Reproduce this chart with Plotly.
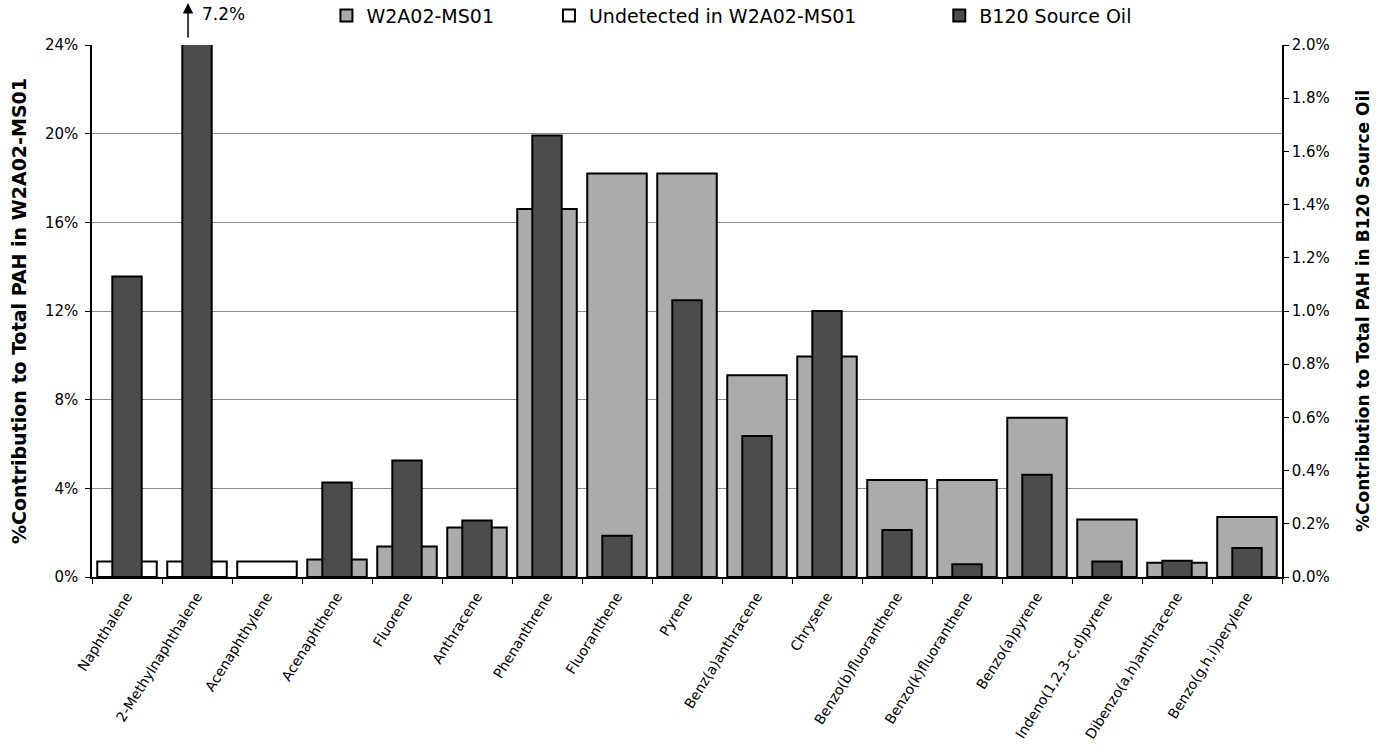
import plotly.graph_objects as go

# PAH compounds (x categories)
compounds = [
    "Naphthalene", "2-Methylnaphthalene", "Acenaphthylene", "Acenaphthene",
    "Fluorene", "Anthracene", "Phenanthrene", "Fluoranthene", "Pyrene",
    "Benz(a)anthracene", "Chrysene", "Benzo(b)fluoranthene",
    "Benzo(k)fluoranthene", "Benzo(a)pyrene", "Indeno(1,2,3-c,d)pyrene",
    "Dibenzo(a,h)anthracene", "Benzo(g,h,i)perylene",
]

# % contribution to total PAH in W2A02-MS01 (detected compounds)
w2a02_pct = [None, None, None, 0.79, 1.38, 2.23, 16.6, 18.2, 18.2,
             9.1, 9.95, 4.38, 4.38, 7.18, 2.59, 0.64, 2.71]

# compounds not detected in W2A02-MS01 (plotted at the detection-limit level)
undetected_pct = [0.7, 0.7, 0.7, None, None, None, None, None, None,
                  None, None, None, None, None, None, None, None]

# % contribution to total PAH in B120 source oil (right axis)
b120_pct = [1.13, 7.2, None, 0.355, 0.438, 0.212, 1.66, 0.155, 1.04,
            0.53, 1.0, 0.177, 0.048, 0.384, 0.058, 0.061, 0.109]

FONT = "DejaVu Sans, Arial, sans-serif"
GRAY = "#ababab"
DARK = "#4c4c4c"
OUTLINE = dict(color="black", width=2)

fig = go.Figure()

fig.add_trace(go.Bar(
    x=compounds, y=w2a02_pct, name="W2A02-MS01",
    width=0.85, marker=dict(color=GRAY, line=OUTLINE),
    legend="legend", showlegend=True,
))
fig.add_trace(go.Bar(
    x=compounds, y=undetected_pct, name="Undetected in W2A02-MS01",
    width=0.85, marker=dict(color="white", line=OUTLINE),
    legend="legend2", showlegend=True,
))
fig.add_trace(go.Bar(
    x=compounds, y=b120_pct, name="B120 Source Oil", yaxis="y2",
    width=0.42, marker=dict(color=DARK, line=OUTLINE),
    legend="legend3", showlegend=True,
))

legend_common = dict(
    orientation="h", yanchor="middle", y=1.055, xanchor="left",
    font=dict(family=FONT, size=19, color="black"),
    bgcolor="rgba(0,0,0,0)", borderwidth=0,
)

fig.update_layout(
    width=1379, height=745,
    margin=dict(l=92, r=97, t=45, b=168, autoexpand=False),
    paper_bgcolor="white", plot_bgcolor="white",
    barmode="overlay", showlegend=True,
    font=dict(family=FONT, color="black"),
    legend=dict(x=0.197, **legend_common),
    legend2=dict(x=0.384, **legend_common),
    legend3=dict(x=0.712, **legend_common),
    xaxis=dict(
        type="category", tickangle=-58, tickson="boundaries",
        ticks="outside", ticklen=5, tickcolor="black",
        showline=True, linecolor="black", linewidth=1.5,
        tickfont=dict(family=FONT, size=14, color="black"),
        ticklabelstandoff=4,
        range=[-0.5, 16.5],
    ),
    yaxis=dict(
        range=[0, 24], dtick=4, ticksuffix="%",
        showgrid=True, gridcolor="#8c8c8c", gridwidth=1,
        zeroline=False, showline=True, linecolor="black", linewidth=1.5,
        ticks="outside", ticklen=5, tickcolor="black",
        tickfont=dict(family=FONT, size=15, color="black"),
        ticklabelstandoff=4,
        title=dict(text="<b>%Contribution to Total PAH in W2A02-MS01</b>",
                   font=dict(family=FONT, size=19, color="black"), standoff=13),
    ),
    yaxis2=dict(
        range=[0, 2.0], dtick=0.2, tickformat=".1f", ticksuffix="%",
        overlaying="y", side="right", showgrid=False, zeroline=False,
        showline=True, linecolor="black", linewidth=1.5,
        ticks="outside", ticklen=5, tickcolor="black",
        tickfont=dict(family=FONT, size=15, color="black"),
        title=dict(text="<b>%Contribution to Total PAH in B120 Source Oil</b>",
                   font=dict(family=FONT, size=17, color="black"), standoff=28),
    ),
    annotations=[
        # off-scale marker for the 2-Methylnaphthalene source-oil value
        dict(xref="paper", yref="paper", x=0.0807, y=1.079,
             ax=0, ay=36, text="", showarrow=True,
             arrowhead=2, arrowsize=1.4, arrowwidth=1.5, arrowcolor="black"),
        dict(xref="paper", yref="paper", x=0.0908, y=1.058,
             xanchor="left", yanchor="middle", showarrow=False,
             text=f"{b120_pct[1]}%",
             font=dict(family=FONT, size=17, color="black")),
    ],
)

fig.write_html("out.html")
